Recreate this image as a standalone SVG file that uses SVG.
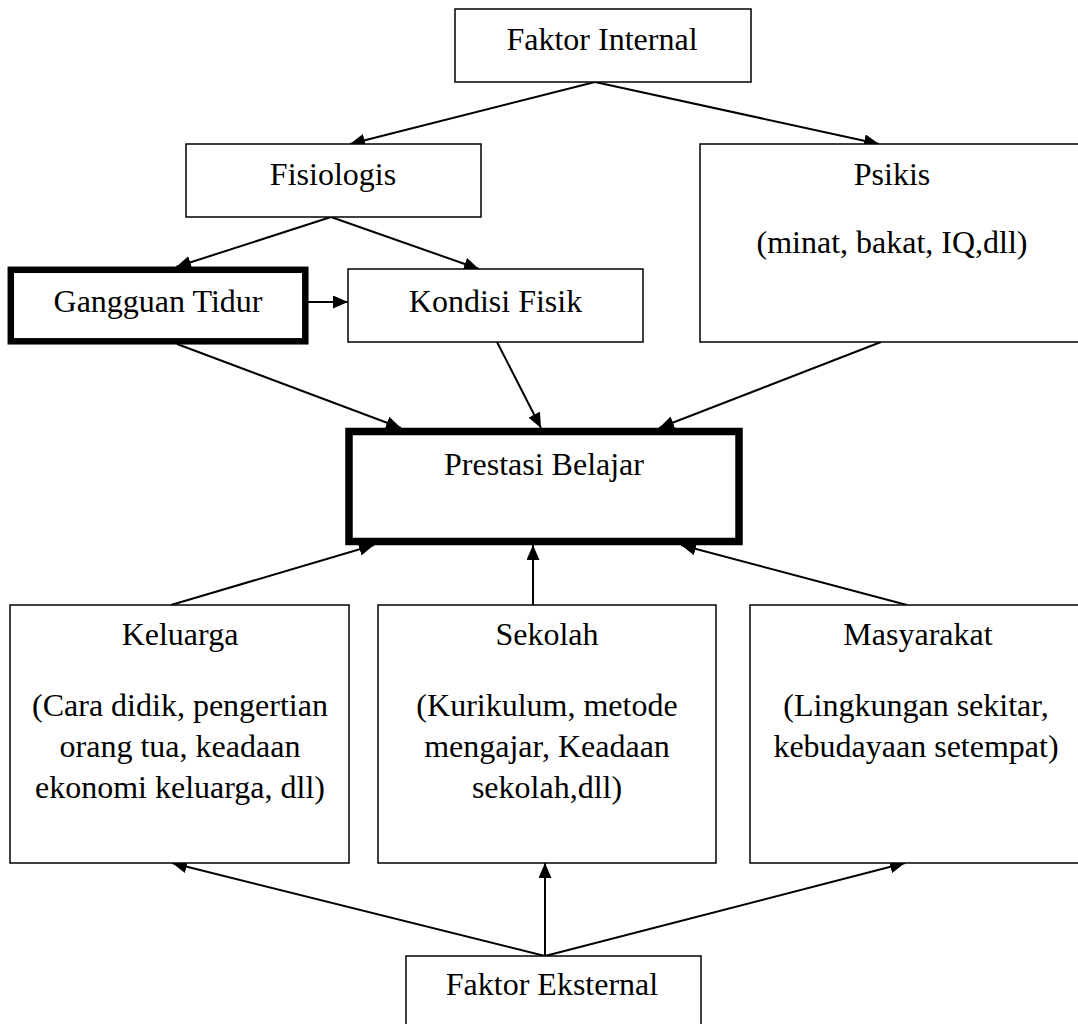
<svg xmlns="http://www.w3.org/2000/svg" width="1078" height="1024" viewBox="0 0 1078 1024">
<style>
.box{fill:#fff;stroke:#000;stroke-width:1.5}
.thick{fill:#fff;stroke:#000;stroke-width:6.5}
.t{font-family:"Liberation Serif","Times New Roman",serif;font-size:32px;fill:#000;text-anchor:middle}
.c{stroke:#000;stroke-width:2;fill:none;marker-end:url(#ah)}
</style>
<defs>
<marker id="ah" markerUnits="userSpaceOnUse" markerWidth="15" markerHeight="13" refX="15" refY="6.5" orient="auto">
<path d="M0,0 L15,6.5 L0,13 Z" fill="#000"/>
</marker>
</defs>
<rect width="1078" height="1024" fill="#fff"/>
<g id="connectors">
<line class="c" x1="595" y1="82" x2="350" y2="144"/>
<line class="c" x1="595" y1="82" x2="879" y2="144"/>
<line class="c" x1="331" y1="217" x2="176" y2="267"/>
<line class="c" x1="331" y1="217" x2="479" y2="269"/>
<line class="c" x1="308" y1="302" x2="348" y2="302"/>
<line class="c" x1="177" y1="344" x2="401" y2="428"/>
<line class="c" x1="497" y1="342" x2="541" y2="428"/>
<line class="c" x1="881" y1="342" x2="659" y2="428"/>
<line class="c" x1="171" y1="605" x2="374" y2="545"/>
<line class="c" x1="533" y1="605" x2="533" y2="545"/>
<line class="c" x1="907" y1="605" x2="681" y2="545"/>
<line class="c" x1="545" y1="956" x2="172" y2="863"/>
<line class="c" x1="545" y1="956" x2="545" y2="863"/>
<line class="c" x1="545" y1="956" x2="905" y2="863"/>
</g>
<g id="faktor-internal">
<rect class="box" x="455" y="9" width="296" height="73"/>
<text class="t" x="602" y="50">Faktor Internal</text>
</g>
<g id="fisiologis">
<rect class="box" x="186" y="144" width="295" height="73"/>
<text class="t" x="333" y="185">Fisiologis</text>
</g>
<g id="psikis">
<rect class="box" x="700" y="144" width="390" height="198"/>
<text class="t" x="892" y="185">Psikis</text>
<text class="t" x="892" y="253">(minat, bakat, IQ,dll)</text>
</g>
<g id="gangguan-tidur">
<rect class="thick" x="10.8" y="269.8" width="294.5" height="71.5"/>
<text class="t" x="158" y="312">Gangguan Tidur</text>
</g>
<g id="kondisi-fisik">
<rect class="box" x="348" y="269" width="295" height="73"/>
<text class="t" x="495.5" y="312">Kondisi Fisik</text>
</g>
<g id="prestasi-belajar">
<rect class="thick" x="349" y="431.5" width="390" height="110" style="stroke-width:7.5"/>
<text class="t" x="544" y="475">Prestasi Belajar</text>
</g>
<g id="keluarga">
<rect class="box" x="10" y="605" width="339" height="258"/>
<text class="t" x="180" y="645">Keluarga</text>
<text class="t" x="180" y="716">(Cara didik, pengertian</text>
<text class="t" x="180" y="757">orang tua, keadaan</text>
<text class="t" x="180" y="798">ekonomi keluarga, dll)</text>
</g>
<g id="sekolah">
<rect class="box" x="378" y="605" width="338" height="258"/>
<text class="t" x="547" y="645">Sekolah</text>
<text class="t" x="547" y="716">(Kurikulum, metode</text>
<text class="t" x="547" y="757">mengajar, Keadaan</text>
<text class="t" x="547" y="798">sekolah,dll)</text>
</g>
<g id="masyarakat">
<rect class="box" x="750" y="605" width="340" height="258"/>
<text class="t" x="918" y="645">Masyarakat</text>
<text class="t" x="916" y="716">(Lingkungan sekitar,</text>
<text class="t" x="916" y="757">kebudayaan setempat)</text>
</g>
<g id="faktor-eksternal">
<rect class="box" x="406" y="956" width="295" height="90"/>
<text class="t" x="552" y="995">Faktor Eksternal</text>
</g>
</svg>
